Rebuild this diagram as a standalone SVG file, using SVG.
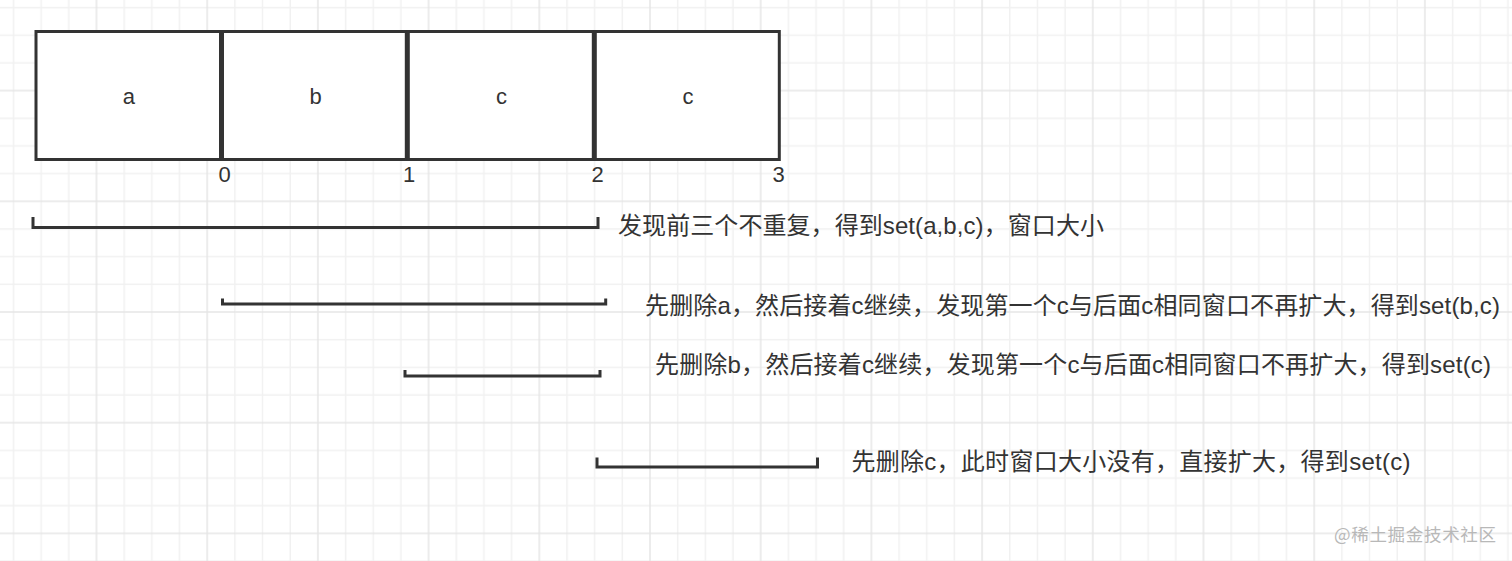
<svg xmlns="http://www.w3.org/2000/svg" width="1512" height="561" viewBox="0 0 1512 561">
<defs>
<pattern id="grid" patternUnits="userSpaceOnUse" x="95.5" y="89.6" width="110.7" height="110.7">
<path d="M28.675 0V110.7M56.35 0V110.7M84.025 0V110.7M0 28.675H110.7M0 56.35H110.7M0 84.025H110.7" stroke="#f1f1f1" stroke-width="1.5" fill="none"/>
<path d="M1 0V110.7M0 1H110.7" stroke="#e6e6e6" stroke-width="1.5" fill="none"/>
</pattern>
<style>
.box rect{fill:#ffffff;stroke:#333333;stroke-width:3}
.lbl{font-family:"Liberation Sans",Arial,sans-serif;font-size:22px;fill:#333333;text-anchor:middle}
.idx{font-family:"Liberation Sans",Arial,sans-serif;font-size:22px;fill:#333333;text-anchor:middle}
.bracket{fill:none;stroke:#333333;stroke-width:3;stroke-linejoin:miter;stroke-linecap:butt}
.note{font-family:"Liberation Sans","Noto Sans CJK SC",sans-serif;font-size:24px;fill:#333333}
.wm{font-family:"Noto Sans CJK SC",sans-serif;font-size:17.5px;fill:#b8b8b8}
</style>
</defs>
<rect width="1512" height="561" fill="#ffffff"/>
<rect width="1512" height="561" fill="url(#grid)"/>

<g id="box-a" class="box"><rect x="36" y="31.5" width="184.5" height="128"/><text class="lbl" x="128.8" y="103.5">a</text></g>
<g id="box-b" class="box"><rect x="222.5" y="31.5" width="183.8" height="128"/><text class="lbl" x="315.5" y="103.5">b</text></g>
<g id="box-c1" class="box"><rect x="408.3" y="31.5" width="185" height="128"/><text class="lbl" x="501.5" y="103.5">c</text></g>
<g id="box-c2" class="box"><rect x="595.3" y="31.5" width="184" height="128"/><text class="lbl" x="688" y="103.5">c</text></g>

<g id="indices">
<text class="idx" x="224.5" y="181.5">0</text>
<text class="idx" x="409" y="181.5">1</text>
<text class="idx" x="597.5" y="181.5">2</text>
<text class="idx" x="778.7" y="181.5">3</text>
</g>

<g id="connectors">
<path class="bracket" d="M33 217V227.5H598V217"/>
<path class="bracket" d="M222.5 298.5V304H605.7V298.5"/>
<path class="bracket" d="M405 370V376H600V370"/>
<path class="bracket" d="M597 457.5V467H817.5V457.5"/>
</g>

<g id="note-1"><text class="note" x="618" y="234" textLength="486" lengthAdjust="spacing">发现前三个不重复，得到set(a,b,c)，窗口大小</text></g>
<g id="note-2"><text class="note" x="645" y="313.5" textLength="855" lengthAdjust="spacing">先删除a，然后接着c继续，发现第一个c与后面c相同窗口不再扩大，得到set(b,c)</text></g>
<g id="note-3"><text class="note" x="655" y="373" textLength="836" lengthAdjust="spacing">先删除b，然后接着c继续，发现第一个c与后面c相同窗口不再扩大，得到set(c)</text></g>
<g id="note-4"><text class="note" x="851.5" y="469.5" textLength="559" lengthAdjust="spacing">先删除c，此时窗口大小没有，直接扩大，得到set(c)</text></g>

<g id="watermark"><text class="wm" x="1334" y="540.5" textLength="162" lengthAdjust="spacing">@稀土掘金技术社区</text></g>
</svg>
